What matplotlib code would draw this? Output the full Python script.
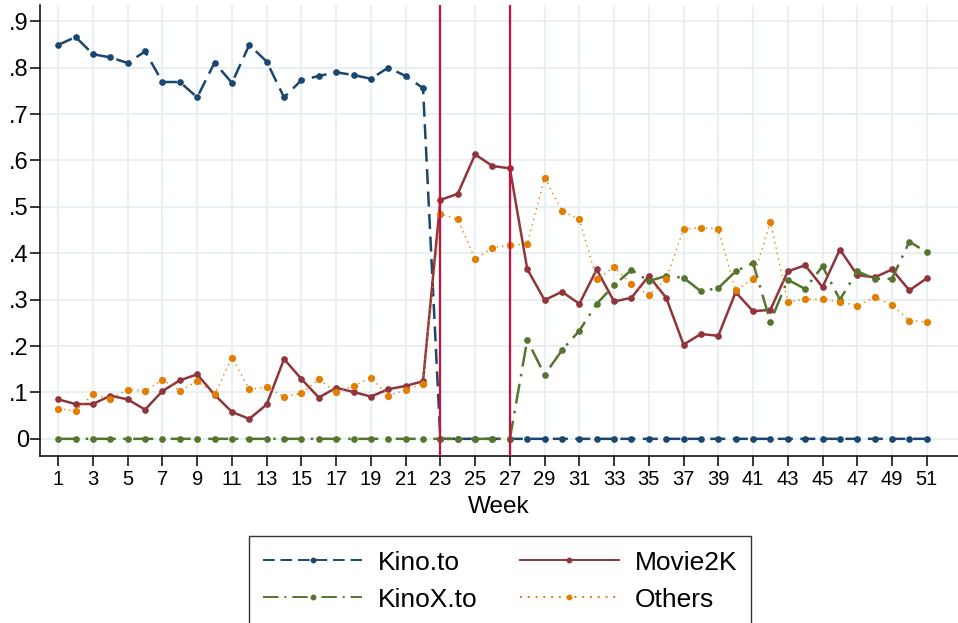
import numpy as np
import matplotlib.pyplot as plt

plt.rcParams['font.family'] = ['Liberation Sans', 'DejaVu Sans']

weeks = np.arange(1, 52)

kino_to = [0.849, 0.866, 0.829, 0.822, 0.810, 0.835, 0.769, 0.769, 0.736, 0.811,
           0.767, 0.849, 0.813, 0.736, 0.773, 0.782, 0.790, 0.784, 0.776, 0.800,
           0.782, 0.756] + [0.0] * 29

movie2k = [0.085, 0.075, 0.075, 0.093, 0.085, 0.063, 0.103, 0.126, 0.139, 0.095,
           0.058, 0.043, 0.074, 0.172, 0.129, 0.089, 0.110, 0.101, 0.091, 0.107,
           0.114, 0.124, 0.515, 0.528, 0.613, 0.588, 0.583, 0.366, 0.299, 0.317,
           0.291, 0.365, 0.296, 0.304, 0.351, 0.304, 0.203, 0.226, 0.222, 0.316,
           0.275, 0.278, 0.361, 0.374, 0.327, 0.408, 0.353, 0.348, 0.365, 0.320,
           0.346]

kinox_to = [0.0] * 27 + [0.213, 0.138, 0.191, 0.233, 0.291, 0.331, 0.364, 0.340,
                         0.351, 0.347, 0.318, 0.325, 0.361, 0.379, 0.252, 0.343,
                         0.323, 0.372, 0.300, 0.361, 0.345, 0.345, 0.425, 0.402]

others = [0.065, 0.060, 0.096, 0.086, 0.106, 0.103, 0.127, 0.104, 0.124, 0.096,
          0.175, 0.107, 0.111, 0.091, 0.098, 0.128, 0.101, 0.114, 0.132, 0.093,
          0.105, 0.119, 0.485, 0.473, 0.387, 0.412, 0.417, 0.420, 0.563, 0.491,
          0.473, 0.344, 0.370, 0.333, 0.310, 0.344, 0.452, 0.455, 0.452, 0.320,
          0.345, 0.468, 0.295, 0.301, 0.301, 0.295, 0.287, 0.305, 0.289, 0.255,
          0.252]

events = [23, 27]

navy = '#1a476f'
maroon = '#90353b'
green = '#55752f'
orange = '#e37e00'
red = '#c8103c'
gridc = '#e8f0f2'

fig = plt.figure(figsize=(9.58, 6.23), dpi=100)
ax = fig.add_axes([40/958, 167/623, 918/958, 451/623])

ax.plot(weeks, kino_to, color=navy, lw=1.8, marker='o', ms=3.8,
        dashes=(6, 3), label='Kino.to')
ax.plot(weeks, movie2k, color=maroon, lw=1.8, marker='o', ms=3.8,
        label='Movie2K')
ax.plot(weeks, kinox_to, color=green, lw=1.8, marker='o', ms=3.8,
        dashes=(8, 3, 1, 3), label='KinoX.to')
ax.plot(weeks, others, color=orange, lw=1.0, marker='o', ms=4.2,
        dashes=(1, 3), label='Others')

for w in events:
    ax.axvline(w, color=red, lw=1.6, zorder=5)

ax.set_xlim(-0.05, 52.8)
ax.set_ylim(-0.037, 0.935)
ax.set_xticks(np.arange(1, 52, 2))
yt = np.round(np.arange(0, 1.0, 0.1), 1)
ax.set_yticks(yt)
ax.set_yticklabels(['0'] + ['.%d' % i for i in range(1, 10)])
ax.grid(True, color=gridc, lw=1.5)
ax.set_axisbelow(True)
for s in ['top', 'right']:
    ax.spines[s].set_visible(False)
ax.spines['left'].set_linewidth(1.1)
ax.spines['bottom'].set_linewidth(1.1)
ax.tick_params(axis='x', labelsize=14.5, length=7, width=1.1, pad=3)
ax.tick_params(axis='y', labelsize=17, length=7, width=1.1, pad=1)
ax.set_xlabel('Week', fontsize=17.5, labelpad=5)

h, l = ax.get_legend_handles_labels()
order = [0, 2, 1, 3]
leg = fig.legend([h[i] for i in order], [l[i] for i in order],
                 loc='upper center', bbox_to_anchor=(500/958, 1 - 536/623),
                 borderaxespad=0, ncol=2, fontsize=19, frameon=True,
                 fancybox=False, edgecolor='black', handlelength=3.75,
                 handletextpad=0.6, columnspacing=1.6, labelspacing=0.5,
                 borderpad=0.55, numpoints=1)
leg.get_frame().set_linewidth(1.0)
for line in leg.get_lines():
    line.set_linewidth(1.4)
    line.set_markersize(3.2)

fig.savefig('out.png', dpi=100)
